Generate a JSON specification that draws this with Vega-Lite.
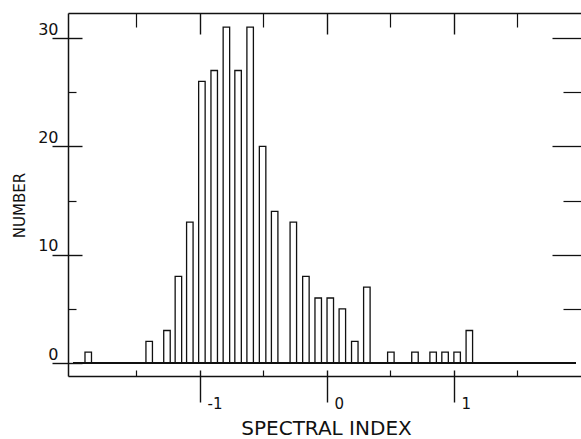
{
  "$schema": "https://vega.github.io/schema/vega-lite/v6.json",
  "width": 513,
  "height": 363,
  "autosize": {"type": "none"},
  "padding": {"left": 68, "top": 13, "right": 0, "bottom": 63},
  "background": "white",
  "data": {
    "values": [
      {"x": -1.88, "n": 1},
      {"x": -1.40, "n": 2},
      {"x": -1.26, "n": 3},
      {"x": -1.17, "n": 8},
      {"x": -1.08, "n": 13},
      {"x": -0.985, "n": 26},
      {"x": -0.888, "n": 27},
      {"x": -0.792, "n": 31},
      {"x": -0.70, "n": 27},
      {"x": -0.605, "n": 31},
      {"x": -0.507, "n": 20},
      {"x": -0.412, "n": 14},
      {"x": -0.265, "n": 13},
      {"x": -0.166, "n": 8},
      {"x": -0.069, "n": 6},
      {"x": 0.026, "n": 6},
      {"x": 0.121, "n": 5},
      {"x": 0.219, "n": 2},
      {"x": 0.314, "n": 7},
      {"x": 0.503, "n": 1},
      {"x": 0.693, "n": 1},
      {"x": 0.836, "n": 1},
      {"x": 0.930, "n": 1},
      {"x": 1.025, "n": 1},
      {"x": 1.121, "n": 3}
    ]
  },
  "layer": [
    {
      "mark": {"type": "bar", "fill": "white", "stroke": "#111111", "strokeWidth": 1.3, "size": 6.5},
      "encoding": {
        "x": {
          "field": "x", "type": "quantitative",
          "scale": {"domain": [-2, 1.961], "nice": false, "zero": false},
          "axis": {
            "orient": "bottom", "offset": -6, "domain": false, "values": [-1, 0, 1],
            "tickSize": 32, "tickWidth": 1.4, "labelAlign": "left", "labelBaseline": "alphabetic",
            "labelOffset": 7, "labelPadding": 6, "labelFontSize": 15,
            "labelExpr": "datum.value < 0 ? '-' + abs(datum.value) : datum.label",
            "title": null
          }
        },
        "y": {
          "field": "n", "type": "quantitative",
          "scale": {"domain": [-1.2, 32.31], "nice": false, "zero": false},
          "axis": {
            "orient": "left", "offset": -14, "domain": false, "values": [0, 10, 20, 30],
            "tickSize": 30, "tickWidth": 1.4, "labelAlign": "right", "labelBaseline": "alphabetic",
            "labelOffset": -4, "labelPadding": -6, "labelFontSize": 16,
            "title": "NUMBER", "titleFontSize": 15, "titleX": -63, "titleY": 192,
            "titleAngle": -90, "titleAlign": "center", "titleBaseline": "middle"
          }
        }
      }
    },
    {
      "mark": {"type": "rule", "stroke": "#111111", "strokeWidth": 1.3},
      "encoding": {
        "x": {
          "datum": -2, "type": "quantitative",
          "axis": {
            "orient": "bottom", "offset": 0, "domain": true, "domainWidth": 1.5,
            "values": [-1.5, -0.5, 0.5, 1.5], "tickSize": -6, "tickWidth": 1.2,
            "labels": false, "title": "SPECTRAL INDEX", "titleFontSize": 20,
            "titleX": 258, "titleY": 62.5, "titleAlign": "center", "titleBaseline": "bottom"
          }
        },
        "x2": {"datum": 1.961},
        "y": {
          "datum": 0, "type": "quantitative",
          "axis": {
            "orient": "left", "offset": 0, "domain": true, "domainWidth": 1.5,
            "values": [5, 15, 25], "tickSize": -8, "tickWidth": 1.2,
            "labels": false, "title": null
          }
        }
      }
    },
    {
      "mark": {"type": "point", "opacity": 0},
      "encoding": {
        "x": {
          "field": "x", "type": "quantitative",
          "axis": {
            "orient": "top", "domain": true, "domainWidth": 1.5, "values": [-1, 0, 1],
            "tickSize": -21, "tickWidth": 1.4, "labels": false, "title": null
          }
        },
        "y": {
          "field": "n", "type": "quantitative",
          "axis": {
            "orient": "right", "domain": false, "values": [10, 20, 30],
            "tickSize": -29, "tickWidth": 1.3, "labels": false, "title": null
          }
        }
      }
    },
    {
      "mark": {"type": "point", "opacity": 0},
      "encoding": {
        "x": {
          "field": "x", "type": "quantitative",
          "axis": {
            "orient": "top", "domain": false, "values": [-1.5, -0.5, 0.5, 1.5],
            "tickSize": -14, "tickWidth": 1.2, "labels": false, "title": null
          }
        },
        "y": {
          "field": "n", "type": "quantitative",
          "axis": {
            "orient": "right", "domain": false, "values": [5, 15, 25],
            "tickSize": -18, "tickWidth": 1.2, "labels": false, "title": null
          }
        }
      }
    }
  ],
  "resolve": {
    "scale": {"x": "shared", "y": "shared"},
    "axis": {"x": "independent", "y": "independent"}
  },
  "config": {
    "view": {"stroke": null},
    "axis": {
      "grid": false,
      "domainColor": "#111111",
      "tickColor": "#111111",
      "labelColor": "#111111",
      "titleColor": "#111111",
      "labelFont": "DejaVu Sans",
      "titleFont": "DejaVu Sans",
      "titleFontWeight": "normal"
    }
  }
}
